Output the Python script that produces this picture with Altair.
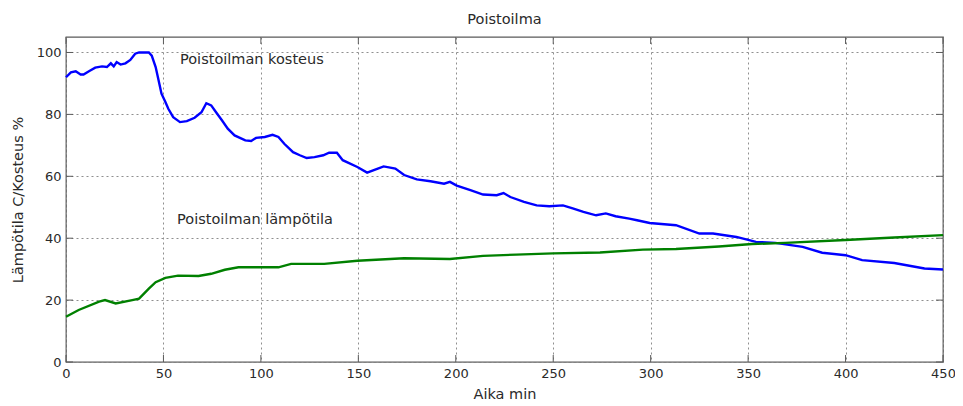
import altair as alt
import pandas as pd

# ---- data ----
hum_t = [0, 2.5, 5, 7.5, 9, 12, 15, 18.5, 21, 23, 24.5, 26, 28, 30.5, 33, 35.5, 37.5, 42.5, 44, 46,
         47.5, 49, 51, 52.5, 55, 58.5, 62, 66, 69.5, 72, 74.5, 77, 80, 83, 86.5, 92, 95, 97.5, 102, 106,
         109, 112, 116.5, 120, 123.5, 127.5, 132, 135, 139, 142, 149.5, 154.5, 160, 163, 169,
         173.5, 180, 187, 194, 197, 200.5, 207.5, 214, 221, 224.5, 228, 235, 241.5, 248, 255,
         260, 265.5, 272, 277, 282, 289, 293, 299.5, 313, 325, 332, 344, 354, 364, 378,
         388, 400, 408.5, 425, 440.5, 450]
hum_v = [92.0, 93.6, 93.9, 92.9, 92.9, 94.0, 95.1, 95.5, 95.3, 96.5, 95.5, 96.9, 96.1, 96.5, 97.6, 99.6, 100, 100, 99, 95.3,
         91, 86.7, 84, 81.8, 79.1, 77.5, 77.8, 78.9, 80.7, 83.6, 82.9, 80.7, 78.1, 75.4, 73.2, 71.6, 71.4, 72.4, 72.7, 73.4,
         72.7, 70.5, 67.8, 66.8, 65.9, 66.2, 66.8, 67.6, 67.6, 65.2, 63, 61.2, 62.5, 63.2, 62.5,
         60.4, 59, 58.4, 57.6, 58.2, 57, 55.5, 54.1, 53.9, 54.6, 53.3, 51.7, 50.6, 50.3, 50.6,
         49.6, 48.5, 47.4, 48, 47.1, 46.3, 45.8, 44.9, 44.2, 41.5, 41.5, 40.4, 38.8, 38.5, 37.2,
         35.3, 34.5, 32.9, 32, 30.2, 29.9]

temp_t = [0, 6.5, 17, 20, 25.5, 34, 37.5, 42.5, 46, 51, 57.5, 68, 74.5, 81.5, 88.5, 102, 109, 115.5, 132.5, 149.5,
          173.5, 197, 214, 231, 250, 274, 296, 313, 335, 352, 369, 400, 425, 450]
temp_v = [14.6, 16.8, 19.5, 20, 18.9, 20, 20.5, 23.7, 25.8, 27.2, 27.9, 27.8, 28.5, 29.8, 30.6, 30.6, 30.6, 31.7, 31.7, 32.7,
          33.5, 33.3, 34.3, 34.7, 35.1, 35.4, 36.3, 36.5, 37.3, 38.1, 38.5, 39.4, 40.2, 41]

x_ticks = [0, 50, 100, 150, 200, 250, 300, 350, 400, 450]
y_ticks = [0, 20, 40, 60, 80, 100]

ann_labels = ["Poistoilman kosteus", "Poistoilman lämpötila"]
ann_t = [58.5, 57]
ann_v = [97.7, 45.9]

TITLE = "Poistoilma"
X_TITLE = "Aika min"
Y_TITLE = "Lämpötila C/Kosteus %"

# ---- layout ----
W, H = 877, 325
FONT = "DejaVu Sans"
FS = 14.5
LFS = 13
TXT = "#2a2a2a"
FRAME = "#5a5a5a"
TL = 7  # inward tick length

xs = alt.Scale(domain=[0, 450], nice=False, zero=False)
ys = alt.Scale(domain=[0, 105], nice=False, zero=False)

hum = pd.DataFrame({"t": hum_t, "v": hum_v})
tmp = pd.DataFrame({"t": temp_t, "v": temp_v})
xt = pd.DataFrame({"t": x_ticks})
yt = pd.DataFrame({"v": y_ticks})
ann = pd.DataFrame({"t": ann_t, "v": ann_v, "label": ann_labels})

common = dict(grid=True, gridDash=[2, 3], gridColor="#8f8f8f", ticks=False, domain=False,
              labelFont=FONT, labelFontSize=LFS, labelColor=TXT, labelFlush=False, labelOverlap=False,
              titleFont=FONT, titleFontSize=FS, titleColor=TXT, titleFontWeight="normal", format="d")
x_axis = alt.Axis(values=x_ticks, title=X_TITLE, labelPadding=5, titlePadding=7, **common)
y_axis = alt.Axis(values=y_ticks, title=Y_TITLE, labelPadding=5, titlePadding=11, **common)

X = lambda: alt.X("t:Q", scale=xs, axis=x_axis)
Y = lambda: alt.Y("v:Q", scale=ys, axis=y_axis)

line_h = alt.Chart(hum).mark_line(color="#0000ff", strokeWidth=2.4).encode(x=X(), y=Y())
line_t = alt.Chart(tmp).mark_line(color="#008000", strokeWidth=2.4).encode(x=X(), y=Y())

tick_b = alt.Chart(xt).mark_rule(color=FRAME, strokeWidth=1).encode(
    x=X(), y=alt.value(H), y2=alt.value(H - TL))
tick_t = alt.Chart(xt).mark_rule(color=FRAME, strokeWidth=1).encode(
    x=X(), y=alt.value(0), y2=alt.value(TL))
tick_l = alt.Chart(yt).mark_rule(color=FRAME, strokeWidth=1).encode(
    y=Y(), x=alt.value(0), x2=alt.value(TL))
tick_r = alt.Chart(yt).mark_rule(color=FRAME, strokeWidth=1).encode(
    y=Y(), x=alt.value(W), x2=alt.value(W - TL))

texts = alt.Chart(ann).mark_text(align="left", baseline="middle", font=FONT, fontSize=FS, color=TXT).encode(
    x=X(), y=Y(), text="label:N",
)

chart = alt.layer(line_h, line_t, tick_b, tick_t, tick_l, tick_r, texts).properties(
    width=W, height=H,
    background="white",
    title=alt.TitleParams(TITLE, font=FONT, fontSize=FS, fontWeight="normal", color=TXT, offset=9, anchor="middle"),
    autosize=alt.AutoSizeParams(type="none"),
    padding={"left": 58, "top": 29, "right": 12, "bottom": 42},
).configure_view(
    stroke=FRAME, strokeWidth=1.3
)

chart.save("out.html", embed_options={"renderer": "svg", "actions": False})
